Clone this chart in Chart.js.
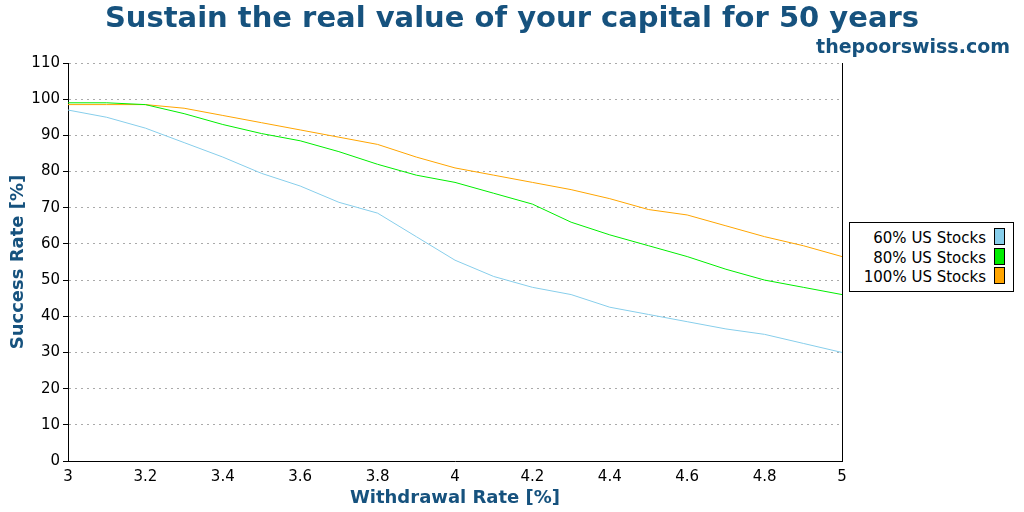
<!DOCTYPE html>
<html><head><meta charset="utf-8">
<script src="https://cdn.jsdelivr.net/npm/chart.js@4"></script>
<style>
body{margin:0;background:#fff;font-family:"DejaVu Sans",sans-serif}
#wrap{position:relative;width:1024px;height:512px}
#title{position:absolute;top:0;left:0;width:1024px;text-align:center;font-weight:bold;font-size:29px;color:#16527e}
#site{position:absolute;top:35px;right:14px;font-weight:bold;font-size:19px;color:#16527e}
#legend{position:absolute;left:849px;top:222px;width:163px;border:1px solid #000;padding:5px 0 4px;font-size:15px;background:#fff}
#legend div{text-align:right;padding-right:8px;line-height:18.5px}
#legend span{display:inline-block;width:9px;height:15px;border:1px solid #000;vertical-align:-2px;margin-left:8px}
</style></head><body>
<div id="wrap">
<canvas id="c" width="1024" height="512"></canvas>
<div id="title">Sustain the real value of your capital for 50 years</div>
<div id="site">thepoorswiss.com</div>
<div id="legend"></div>
</div>
<script>
// Withdrawal rates (%) and success rates (%)
const rates = [3.0,3.1,3.2,3.3,3.4,3.5,3.6,3.7,3.8,3.9,4.0,4.1,4.2,4.3,4.4,4.5,4.6,4.7,4.8,4.9,5.0];
const stocks60 = [97,95,92,88,84,79.5,76,71.5,68.5,62,55.5,51,48,46,42.5,40.5,38.5,36.5,35,32.5,30];
const stocks80 = [99,99,98.5,96,93,90.5,88.5,85.5,82,79,77,74,71,66,62.5,59.5,56.5,53,50,48,46];
const stocks100 = [98.5,98.5,98.5,97.5,95.5,93.5,91.5,89.5,87.5,84,81,79,77,75,72.5,69.5,68,65,62,59.5,56.5];
const seriesNames = ['60% US Stocks','80% US Stocks','100% US Stocks'];
const seriesColors = ['#87ceeb','#00ee00','#ffa500'];

const sets = [stocks60, stocks80, stocks100].map((vals, i) => ({
    label: seriesNames[i],
    data: rates.map((r, j) => ({x: r, y: vals[j]})),
    borderColor: seriesColors[i],
    backgroundColor: seriesColors[i],
    borderWidth: 1,
    pointRadius: 0,
    tension: 0
}));

document.getElementById('legend').innerHTML = seriesNames.map((n, i) =>
    `<div>${n}<span style="background:${seriesColors[i]}"></span></div>`).join('');

Chart.defaults.font.family = '"DejaVu Sans", sans-serif';
Chart.defaults.color = '#000';

new Chart(document.getElementById('c'), {
    type: 'line',
    data: {datasets: sets},
    options: {
        responsive: false,
        animation: false,
        layout: {padding: {top: 63, right: 182, left: 8, bottom: 0}},
        plugins: {legend: {display: false}, tooltip: {enabled: false}},
        scales: {
            x: {
                type: 'linear', min: 3, max: 5,
                ticks: {stepSize: 0.2, font: {size: 15}, padding: 2, callback: v => +v.toFixed(1)},
                grid: {display: false, drawTicks: true, tickLength: 5, tickColor: '#000'},
                border: {color: '#000'},
                title: {display: true, text: 'Withdrawal Rate [%]', color: '#16527e', font: {size: 18, weight: 'bold'}, padding: {top: 0, bottom: 3}},
                afterFit: s => { s.height = 51; }
            },
            y: {
                min: 0, max: 110,
                ticks: {stepSize: 10, font: {size: 15}, padding: 3},
                grid: {color: '#aaa', tickLength: 5, tickColor: '#000'},
                border: {color: '#000', dash: [2, 4]},
                title: {display: true, text: 'Success Rate [%]', color: '#16527e', font: {size: 18, weight: 'bold'}, padding: 0},
                afterFit: s => { s.width = 60; }
            },
            y2: {
                position: 'right', min: 0, max: 110,
                ticks: {display: false}, grid: {display: false},
                border: {color: '#000'},
                afterFit: s => { s.width = 0; }
            }
        }
    }
});
</script>
</body></html>
